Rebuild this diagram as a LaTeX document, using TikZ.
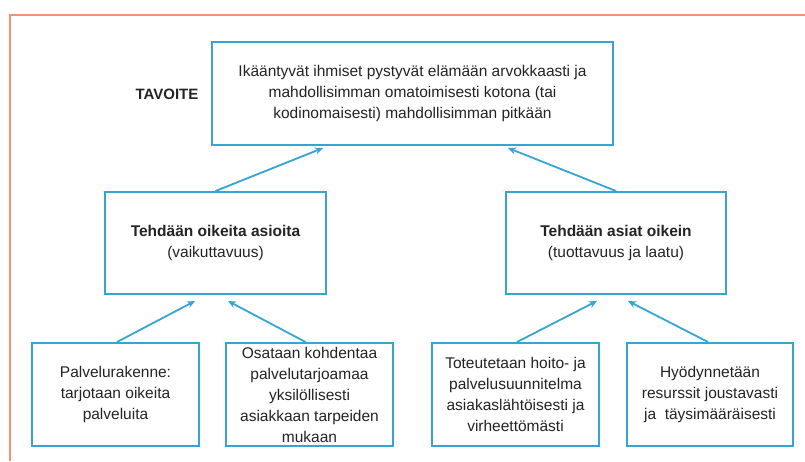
\documentclass[tikz,border=0pt]{standalone}
\usepackage{fontspec}
\setmainfont{Liberation Sans}
\usetikzlibrary{arrows.meta}
\definecolor{boxblue}{RGB}{55,165,210}
\definecolor{frameorange}{RGB}{243,145,115}
\definecolor{txtgray}{RGB}{35,35,35}

\begin{document}
\begin{tikzpicture}[x=1pt,y=-1pt,
   box/.style={draw=boxblue,line width=2pt,inner sep=0pt,align=center,
      text=txtgray,font=\fontsize{15.5}{21}\selectfont},
   arr/.style={draw=boxblue,line width=1.8pt,-{Stealth[length=8pt,width=7pt]}}]%
   \useasboundingbox (0,0) rectangle (805,461);
   \draw[frameorange,line width=2pt] (805,15) -- (10,15) -- (10,461);
   \node[box,minimum width=401pt,minimum height=103pt] (goal) at (412.5,93.5)
      {Ikääntyvät ihmiset pystyvät elämään arvokkaasti ja\\
       mahdollisimman omatoimisesti kotona (tai\\
       kodinomaisesti) mahdollisimman pitkään};
   \node[text=txtgray,font=\fontsize{15}{21}\selectfont\bfseries] (tavoite) at (167,94) {TAVOITE};
   \node[box,minimum width=221pt,minimum height=102pt] (right) at (215.5,243)
      {\textbf{Tehdään oikeita asioita}\\(vaikuttavuus)};
   \node[box,minimum width=220pt,minimum height=102pt] (things) at (616,243)
      {\textbf{Tehdään asiat oikein}\\(tuottavuus ja laatu)};
   \node[box,minimum width=167pt,minimum height=103pt] (b1) at (115.5,394.5)
      {Palvelurakenne:\\tarjotaan oikeita\\palveluita};
   \node[box,minimum width=167pt,minimum height=103pt] (b2) at (309.5,394.5)
      {Osataan kohdentaa\\palvelutarjoamaa\\yksilöllisesti\\asiakkaan tarpeiden\\mukaan};
   \node[box,minimum width=167pt,minimum height=103pt] (b3) at (515.5,394.5)
      {Toteutetaan hoito- ja\\palvelusuunnitelma\\asiakaslähtöisesti ja\\virheettömästi};
   \node[box,minimum width=166pt,minimum height=103pt] (b4) at (710,394.5)
      {Hyödynnetään\\resurssit joustavasti\\ja\ \ täysimääräisesti};
   \draw[arr] (right.north) -- ([xshift=-89.5pt,yshift=-2pt]goal.south);
   \draw[arr] (things.north) -- ([xshift=95.5pt,yshift=-2pt]goal.south);
   \draw[arr] ([xshift=1.5pt]b1.north) -- ([xshift=-20.5pt,yshift=-6pt]right.south);
   \draw[arr] ([xshift=-4pt]b2.north) -- ([xshift=12.5pt,yshift=-6pt]right.south);
   \draw[arr] ([xshift=1.5pt]b3.north) -- ([xshift=-19pt,yshift=-6pt]things.south);
   \draw[arr] ([xshift=-2pt]b4.north) -- ([xshift=12pt,yshift=-6pt]things.south);
\end{tikzpicture}
\end{document}
